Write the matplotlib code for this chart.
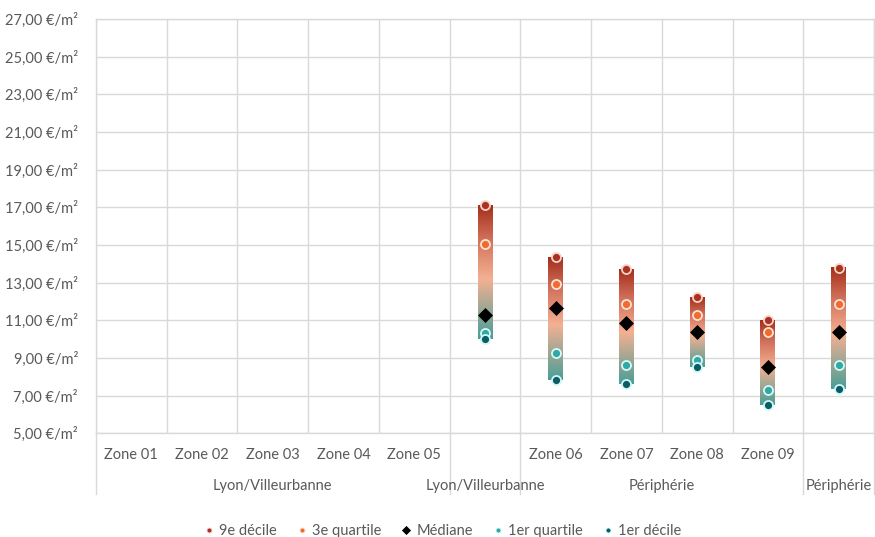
import numpy as np
import matplotlib
matplotlib.use("Agg")
import matplotlib.pyplot as plt
from matplotlib.colors import LinearSegmentedColormap
from matplotlib.lines import Line2D

plt.rcParams['font.family'] = ['Lato', 'DejaVu Sans']

# Data
zone_labels = ["Zone 01", "Zone 02", "Zone 03", "Zone 04", "Zone 05", "",
               "Zone 06", "Zone 07", "Zone 08", "Zone 09", ""]
group_labels = ["Lyon/Villeurbanne", "Lyon/Villeurbanne", "Périphérie", "Périphérie"]
group_spans = [(0, 4), (5, 5), (6, 9), (10, 10)]

# only the last six slots carry values
data_slots = [5, 6, 7, 8, 9, 10]
decile9 = [17.10, 14.35, 13.70, 12.25, 11.00, 13.79]
quartile3 = [15.05, 12.91, 11.86, 11.30, 10.40, 11.86]
mediane = [11.30, 11.63, 10.86, 10.40, 8.54, 10.40]
quartile1 = [10.35, 9.27, 8.63, 8.88, 7.32, 8.61]
decile1 = [10.01, 7.82, 7.63, 8.54, 6.49, 7.33]

series_names = ["9e décile", "3e quartile", "Médiane", "1er quartile", "1er décile"]

TEXT = "#595959"
GRID = "#D9D9D9"

W, H = 875, 537
fig = plt.figure(figsize=(W / 100, H / 100), dpi=100)
left, right, top, bottom = 96, 874, 19, 433.3
ax = fig.add_axes([left / W, 1 - bottom / H, (right - left) / W, (bottom - top) / H])

n = len(zone_labels)
ax.set_xlim(-0.5, n - 0.5)
ax.set_ylim(5, 27)

# gridlines
for b in np.arange(-0.5, n, 1.0):
    ax.axvline(b, color=GRID, lw=1, zorder=0)
ax.set_yticks(np.arange(5, 28, 2))
ax.yaxis.grid(True, color=GRID, lw=1, zorder=0)
ax.set_axisbelow(True)
ax.set_yticklabels([f"{v:.2f}".replace(".", ",") + " €/m²" for v in np.arange(5, 28, 2)],
                   color=TEXT, fontsize=10.5)
ax.tick_params(axis='y', length=0, pad=13)
ax.set_xticks([])
for s in ax.spines.values():
    s.set_color(GRID)
    s.set_linewidth(1)

# gradient bars from 1er décile to 9e décile
cmap = LinearSegmentedColormap.from_list(
    "grad", [(0.0, "#4A9E96"), (0.45, "#F4B092"), (0.75, "#D0705A"), (1.0, "#A42E1B")])
grad = np.linspace(0, 1, 256).reshape(-1, 1)
bw = 0.21
for x, lo, hi in zip(data_slots, decile1, decile9):
    ax.imshow(grad, cmap=cmap, origin='lower', aspect='auto',
              extent=(x - bw / 2, x + bw / 2, lo, hi), zorder=2)
ax.set_xlim(-0.5, n - 0.5)
ax.set_ylim(5, 27)

styles = [
    dict(marker='o', mfc="#A93222", mec="#F8D3C8", ms=6.5, mew=1.3),
    dict(marker='o', mfc="#F26B2D", mec="#FCE2D4", ms=6.5, mew=1.3),
    dict(marker='D', mfc="black", mec="black", ms=7.5, mew=0.5),
    dict(marker='o', mfc="#2BAAA6", mec="#DDF6F6", ms=6.5, mew=1.3),
    dict(marker='o', mfc="#0B5C63", mec="#D2F7FA", ms=6.5, mew=1.3),
]
for vals, st in zip([decile9, quartile3, mediane, quartile1, decile1], styles):
    ax.plot(data_slots, vals, ls='none', zorder=4, clip_on=False, **st)

# category axis labels (two tiers)
ax_y0 = 1 - bottom / H
slot_w = (right - left) / W / n
def fx(i):
    return (left / W) + (i + 0.5) * slot_w

for i, lab in enumerate(zone_labels):
    if lab:
        fig.text(fx(i), 1 - 455 / H, lab, ha='center', va='center', color=TEXT, fontsize=10.5)
for lab, (a, b) in zip(group_labels, group_spans):
    fig.text((fx(a) + fx(b)) / 2, 1 - 486 / H, lab, ha='center', va='center',
             color=TEXT, fontsize=10.5)
for b in [-0.5, 4.5, 5.5, 9.5, 10.5]:
    xf = left / W + (b + 0.5) * slot_w
    fig.add_artist(Line2D([xf, xf], [ax_y0, 1 - 494 / H], color=GRID, lw=1))

# legend
handles = [Line2D([], [], ls='none', **dict(st, ms=st['ms'] * 0.55, mew=0.6)) for st in styles]
fig.legend(handles, series_names, loc='center', bbox_to_anchor=(443 / W, 1 - 531 / H),
           ncol=5, frameon=False, fontsize=10.5, labelcolor=TEXT,
           handlelength=0.6, handletextpad=0.4, columnspacing=1.4)

fig.savefig("out.png", dpi=100)
